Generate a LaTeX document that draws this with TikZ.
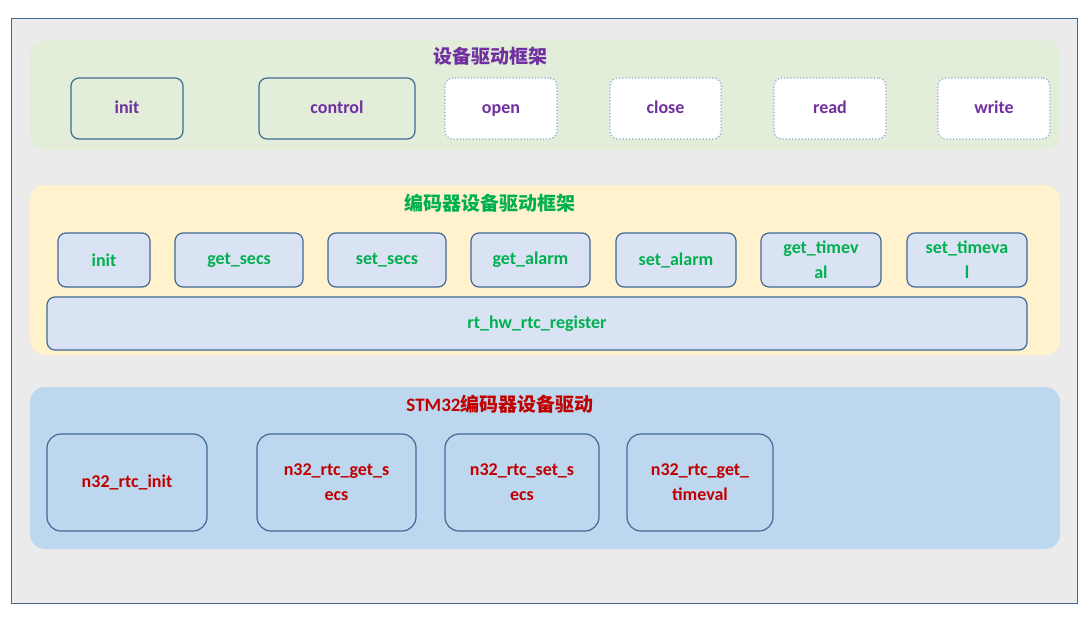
\documentclass[tikz,border=0pt]{standalone}
\usepackage{fontspec}
\setmainfont{Carlito}
\newfontfamily\cjk{Noto Sans CJK SC}
\usepackage{tikz}
\definecolor{frame}{RGB}{65,105,150}
\definecolor{dotframe}{RGB}{140,170,200}
\definecolor{bggray}{RGB}{235,235,235}
\definecolor{pgreen}{RGB}{226,238,218}
\definecolor{pyellow}{RGB}{255,242,204}
\definecolor{pblue}{RGB}{189,215,238}
\definecolor{boxblue}{RGB}{218,227,243}
\definecolor{tpurple}{RGB}{112,48,160}
\definecolor{tgreen}{RGB}{0,176,80}
\definecolor{tred}{RGB}{192,0,0}
\tikzset{
  panel/.style={draw=none, rounded corners=15pt},
  fn/.style={draw=frame, line width=1.2pt, rounded corners=8pt, font=\bfseries\fontsize{18}{25}\selectfont, align=center, inner sep=0pt},
  solidfn/.style={fn, fill=pgreen},
  dotfn/.style={fn, draw=dotframe, dotted, fill=white},
  title/.style={font=\cjk\bfseries\fontsize{19}{22}\selectfont}
}
\begin{document}
\begin{tikzpicture}[x=1pt,y=-1pt]
	\useasboundingbox (0,0) rectangle (1087,622);
	\fill[white] (0,0) rectangle (1087,622);
	\draw[frame, fill=bggray, line width=1pt] (11,18) rectangle (1077,603);

	% Panels
	\fill[pgreen, panel] (30,40) rectangle (1060,150);
	\fill[pyellow, panel] (30,185) rectangle (1060,355);
	\fill[pblue, panel] (30,387) rectangle (1060,549);

	\node[title, text=tpurple] (devtitle) at (490,56) {设备驱动框架};
	\node[title, text=tgreen] (enctitle) at (490,203) {编码器设备驱动框架};
	\node[title, text=tred] (stmtitle) at (500,404) {\fontspec{Carlito}STM32\cjk 编码器设备驱动};

	% Device framework
	\foreach \name/\xa/\xb/\lbl/\sty in {dinit/71/183/init/solidfn, dcontrol/259/415/control/solidfn,
		dopen/445/557/open/dotfn, dclose/610/721/close/dotfn, dread/774/886/read/dotfn, dwrite/938/1050/write/dotfn} {
		\node[\sty, text=tpurple, minimum width={(\xb-\xa)*1pt}, minimum height=61pt] (\name) at ({(\xa+\xb)/2},108.5) {\strut\lbl};
	}

	% Encoder framework
	\foreach \name/\xa/\xb/\lbl in {einit/58/150/init, egetsecs/175/303/get\_secs, esetsecs/328/446/set\_secs,
		egetalarm/471/590/get\_alarm, esetalarm/616/736/set\_alarm, egettv/761/881/get\_timev\\al, esettv/907/1027/set\_timeva\\l} {
		\node[fn, text=tgreen, fill=boxblue, minimum width={(\xb-\xa)*1pt}, minimum height=54pt] (\name) at ({(\xa+\xb)/2},260) {\lbl};
	}
	\node[fn, text=tgreen, fill=boxblue, minimum width=980pt, minimum height=53pt] (reg) at (537,323.5) {rt\_hw\_rtc\_register};

	% STM32 driver
	\foreach \name/\xa/\xb/\lbl in {ninit/47/207/n32\_rtc\_init, ngetsecs/257/416/n32\_rtc\_get\_s\\ecs,
		nsetsecs/445/599/n32\_rtc\_set\_s\\ecs, ngettv/627/773/n32\_rtc\_get\_\\timeval} {
		\node[fn, text=tred, fill=pblue, rounded corners=14pt, minimum width={(\xb-\xa)*1pt}, minimum height=97pt] (\name) at ({(\xa+\xb)/2},482.5) {\lbl};
	}
\end{tikzpicture}
\end{document}
